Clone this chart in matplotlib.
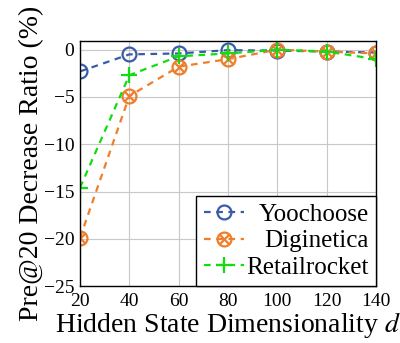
import matplotlib.pyplot as plt
import numpy as np
from matplotlib.path import Path

plt.rcParams['font.family'] = ['Liberation Serif', 'DejaVu Serif']
plt.rcParams['mathtext.fontset'] = 'stix'

dims = [20, 40, 60, 80, 100, 120, 140]
yoochoose = [-2.3, -0.5, -0.4, -0.05, -0.1, -0.2, -0.3]
diginetica = [-19.9, -4.9, -1.8, -1.0, 0.0, -0.2, -0.4]
retailrocket = [-14.6, -2.7, -0.7, -0.4, 0.0, -0.2, -1.0]

# circle with a cross inside (otimes)
d = 0.7071
cross = Path([(-d, -d), (d, d), (-d, d), (d, -d)],
             [Path.MOVETO, Path.LINETO, Path.MOVETO, Path.LINETO])
otimes = Path.make_compound_path(Path.unit_circle(), cross)

fig = plt.figure(figsize=(4, 3.43), dpi=100)
ax = fig.add_axes([0.2, 0.166, 0.74, 0.714])

ax.plot(dims, yoochoose, '--', color='#3a5ba8', lw=1.6, marker='o',
        ms=10, mfc='none', mew=1.6, label='Yoochoose', dashes=(3, 2.5))
ax.plot(dims, diginetica, '--', color='#f07d2a', lw=1.6, marker=otimes,
        ms=10, mfc='none', mew=1.6, label='Diginetica', dashes=(3, 2.5))
ax.plot(dims, retailrocket, '--', color='#11dd11', lw=1.6, marker='+',
        ms=11, mew=1.6, label='Retailrocket', dashes=(3, 2.5))

ax.set_xlim(20, 140)
ax.set_ylim(-25, 0.9)
ax.set_xticks(dims)
ax.set_yticks([-25, -20, -15, -10, -5, 0])
ax.grid(True, color='#c8c8c8', lw=0.8)
ax.tick_params(labelsize=14, length=0)
ax.tick_params(axis='x', pad=5)
ax.tick_params(axis='y', pad=4)
for s in ax.spines.values():
    s.set_linewidth(1.0)

ax.set_xlabel('Hidden State Dimensionality $d$', fontsize=20, labelpad=0)
ax.set_ylabel('Pre@20 Decrease Ratio (%)', fontsize=20, labelpad=0)

leg = ax.legend(loc='lower right', fontsize=18, fancybox=False,
                edgecolor='black', framealpha=1, borderaxespad=0,
                handlelength=1.6, handletextpad=0.1, borderpad=0.3,
                labelspacing=0.15)
leg.get_frame().set_linewidth(1.0)

# right-align the legend labels, keep the handles on the left
fig.canvas.draw()
renderer = fig.canvas.get_renderer()
rows = [r for col in leg._legend_handle_box.get_children() for r in col.get_children()]
w = max(r.get_bbox(renderer).width for r in rows)
for r in rows:
    r.mode = 'expand'
    r.width = w

fig.savefig('out.png', dpi=100)
